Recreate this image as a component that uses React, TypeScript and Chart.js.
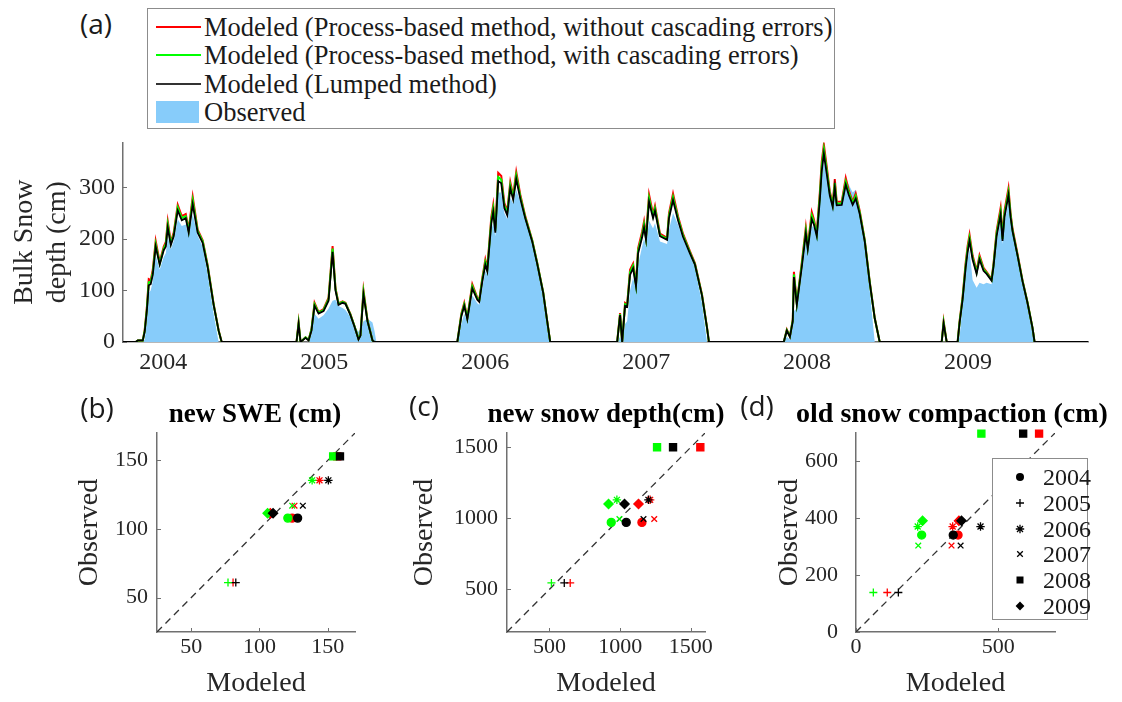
import React, { useEffect, useRef } from 'react';
import { Chart, registerables } from 'chart.js';

Chart.register(...registerables);

const SERIF = '"Liberation Serif", "Times New Roman", serif';
const SANS = '"Open Sans", "Liberation Sans", sans-serif';
const AXIS = '#707070';
const TXT = '#262626';
const RED = '#ff0000';
const GREEN = '#00ff00';
const BLACK = '#000000';
const OBS_BLUE = '#87CCFA';

Chart.defaults.font.family = SERIF;

// ---------------- Panel (a): bulk snow depth time series ----------------
const yearTicks = [2004, 2005, 2006, 2007, 2008, 2009];
const depthTicks = [0, 100, 200, 300];

const dates = [
  // 2004 season
  2003.750, 2003.829, 2003.842, 2003.873, 2003.885, 2003.898, 2003.910, 2003.922, 2003.935, 2003.953,
  2003.978, 2004.003, 2004.016, 2004.028, 2004.047, 2004.065, 2004.090, 2004.115, 2004.140, 2004.158,
  2004.183, 2004.214, 2004.245, 2004.276, 2004.313, 2004.344, 2004.363,
  // 2005 season
  2004.828, 2004.841, 2004.853, 2004.884, 2004.903, 2004.921, 2004.940, 2004.965, 2004.996, 2005.027,
  2005.052, 2005.070, 2005.089, 2005.114, 2005.132, 2005.163, 2005.188, 2005.213, 2005.225, 2005.244,
  2005.269, 2005.300, 2005.312, 2005.324,
  // 2006 season
  2005.827, 2005.852, 2005.870, 2005.889, 2005.920, 2005.951, 2005.963, 2005.982, 2006.001, 2006.013,
  2006.038, 2006.050, 2006.063, 2006.081, 2006.100, 2006.119, 2006.137, 2006.156, 2006.174, 2006.193,
  2006.218, 2006.249, 2006.292, 2006.323, 2006.360, 2006.385, 2006.404,
  // 2007 season
  2006.820, 2006.838, 2006.851, 2006.869, 2006.882, 2006.900, 2006.919, 2006.937, 2006.950, 2006.975,
  2006.987, 2006.999, 2007.018, 2007.043, 2007.055, 2007.086, 2007.130, 2007.142, 2007.167, 2007.198,
  2007.229, 2007.272, 2007.303, 2007.347, 2007.378, 2007.390,
  // 2008 season
  2007.855, 2007.874, 2007.893, 2007.911, 2007.918, 2007.936, 2007.967, 2007.992, 2008.004, 2008.029,
  2008.042, 2008.060, 2008.079, 2008.091, 2008.104, 2008.122, 2008.141, 2008.159, 2008.172, 2008.184,
  2008.215, 2008.240, 2008.259, 2008.283, 2008.302, 2008.327, 2008.358, 2008.389, 2008.420, 2008.451,
  // 2009 season
  2008.836, 2008.848, 2008.867, 2008.935, 2008.947, 2008.966, 2008.985, 2008.997, 2009.009, 2009.028,
  2009.053, 2009.071, 2009.096, 2009.115, 2009.146, 2009.158, 2009.177, 2009.202, 2009.214, 2009.226,
  2009.251, 2009.264, 2009.276, 2009.307, 2009.338, 2009.369, 2009.400, 2009.413, 2009.745,
];

const lumped = [
  0, 0, 3, 3, 20, 60, 110, 112, 130, 185, 150, 178, 185, 222, 188, 205, 255, 236, 240, 212, 267, 212, 192, 145, 72, 22, 0,
  0, 35, 0, 8, 3, 22, 70, 55, 60, 80, 175, 100, 72, 76, 74, 52, 30, 5, 12, 92, 40, 3, 0, 0,
  0, 50, 70, 44, 104, 82, 78, 117, 150, 137, 230, 252, 212, 312, 308, 260, 246, 298, 276, 316, 278, 240, 195, 152, 96, 41, 0,
  0, 52, 0, 70, 68, 130, 143, 108, 172, 203, 222, 198, 272, 240, 254, 205, 198, 240, 275, 236, 204, 172, 150, 90, 28, 0,
  0, 22, 10, 40, 126, 72, 145, 210, 180, 238, 228, 205, 275, 332, 365, 326, 284, 262, 300, 265, 266, 305, 285, 266, 278, 248, 195, 115, 46, 0,
  0, 36, 0, 0, 36, 82, 144, 174, 196, 160, 132, 160, 138, 132, 119, 146, 205, 247, 196, 242, 285, 242, 215, 168, 118, 76, 28, 0, 0,
];

const processNoCascade = [
  0, 0, 3, 3, 24, 66, 122, 120, 140, 196, 155, 185, 194, 234, 194, 212, 266, 244, 248, 218, 282, 218, 197, 149, 74, 23, 0,
  0, 38, 0, 9, 4, 25, 76, 58, 64, 86, 186, 105, 75, 79, 76, 54, 31, 6, 13, 100, 42, 3, 0, 0,
  0, 55, 76, 47, 112, 86, 81, 124, 160, 143, 242, 266, 220, 328, 322, 270, 254, 310, 284, 330, 286, 244, 198, 154, 97, 42, 0,
  0, 56, 0, 76, 73, 140, 152, 113, 182, 214, 234, 205, 286, 248, 264, 210, 202, 250, 288, 244, 210, 176, 153, 92, 29, 0,
  0, 24, 11, 44, 136, 76, 154, 222, 186, 252, 238, 212, 290, 350, 383, 340, 292, 268, 316, 272, 272, 318, 294, 272, 288, 254, 198, 117, 47, 0,
  0, 40, 0, 0, 40, 88, 154, 186, 208, 168, 138, 168, 144, 136, 122, 152, 215, 260, 204, 254, 298, 250, 220, 171, 120, 77, 28, 0, 0,
];

const processCascade = [
  0, 0, 3, 3, 22, 63, 116, 116, 135, 190, 152, 181, 190, 228, 191, 208, 261, 240, 244, 215, 275, 215, 195, 147, 73, 22, 0,
  0, 37, 0, 9, 4, 24, 73, 57, 62, 83, 181, 103, 74, 78, 75, 53, 31, 6, 13, 97, 41, 3, 0, 0,
  0, 53, 73, 46, 108, 84, 80, 121, 155, 140, 236, 259, 216, 320, 315, 265, 250, 304, 280, 323, 282, 242, 197, 153, 97, 41, 0,
  0, 54, 0, 73, 70, 135, 148, 110, 177, 208, 228, 201, 279, 244, 259, 207, 200, 245, 281, 240, 207, 174, 151, 91, 28, 0,
  0, 23, 11, 42, 131, 74, 150, 216, 183, 245, 233, 208, 283, 341, 374, 333, 288, 265, 308, 268, 269, 311, 290, 269, 283, 251, 197, 116, 46, 0,
  0, 38, 0, 0, 38, 85, 149, 180, 202, 164, 135, 164, 141, 134, 120, 149, 210, 253, 200, 248, 291, 246, 217, 169, 119, 77, 28, 0, 0,
];

const observedDepth = [
  0, 0, 0, 0, 5, 40, 95, 100, 118, 168, 140, 165, 172, 205, 180, 196, 238, 225, 228, 205, 248, 206, 185, 132, 55, 0, 0,
  0, 0, 0, 0, 0, 15, 55, 45, 52, 65, 80, 82, 70, 66, 62, 48, 30, 20, 25, 40, 45, 38, 22, 0,
  0, 35, 55, 40, 90, 75, 72, 105, 138, 130, 215, 232, 205, 290, 290, 250, 238, 280, 268, 295, 272, 240, 196, 150, 95, 30, 0,
  0, 10, 0, 35, 40, 100, 125, 100, 150, 185, 200, 185, 235, 220, 230, 195, 190, 218, 250, 228, 200, 168, 145, 75, 0, 0,
  0, 10, 5, 30, 60, 65, 130, 195, 175, 225, 222, 200, 262, 318, 352, 320, 280, 262, 292, 268, 272, 318, 305, 290, 295, 255, 190, 100, 0, 0,
  0, 0, 0, 0, 10, 70, 135, 160, 180, 120, 105, 115, 112, 115, 112, 138, 195, 235, 190, 232, 272, 240, 218, 172, 120, 78, 20, 0, 0,
];

// ---------------- Panels (b)-(d): scatter comparisons ----------------
const seasons = ['2004', '2005', '2006', '2007', '2008', '2009'];

// (b) new SWE (cm)
const sweTicks = [50, 100, 150];
const sweObserved = [108, 61, 135.5, 117, 153, 111.5];
const sweLumped = [128, 82.7, 150.5, 131.8, 159, 110];
const sweNoCascade = [124, 80.7, 144, 125.7, 157, 108];
const sweCascade = [120.8, 77, 138.6, 124, 154, 106];

// (c) new snow depth (cm)
const newDepthTicks = [500, 1000, 1500];
const newDepthObserved = [971, 545, 1130, 995, 1500, 1100];
const newDepthLumped = [1043, 605, 1200, 1165, 1374, 1031];
const newDepthNoCascade = [1154, 647, 1212, 1241, 1567, 1130];
const newDepthCascade = [937, 514, 977, 995, 1261, 918];

// (d) old snow compaction (cm)
const compXTicks = [0, 500];
const compYTicks = [0, 200, 400, 600];
const compObserved = [341, 139, 371, 304, 698, 391];
const compLumped = [342, 149, 438, 368, 588, 371];
const compNoCascade = [359, 110, 340, 336, 644, 362];
const compCascade = [231, 61, 217, 219, 441, 234];

const seasonMarkers = ['circle', 'cross', 'star', 'crossRot', 'rect', 'rectRot'];
const markerRadius = [4, 4, 4.2, 4, 5, 4.6];

// ---------------- helpers ----------------
const inwardTicks = {
  id: 'inwardTicks',
  beforeDatasetsDraw(chart: any) {
    const { ctx, chartArea: ca } = chart;
    const xs = chart.scales.x;
    const ys = chart.scales.y;
    ctx.save();
    ctx.strokeStyle = AXIS;
    ctx.lineWidth = 1;
    xs.ticks.forEach((t: any) => {
      const px = Math.round(xs.getPixelForValue(t.value)) + 0.5;
      ctx.beginPath();
      ctx.moveTo(px, ca.bottom);
      ctx.lineTo(px, ca.bottom - 4);
      ctx.stroke();
    });
    ys.ticks.forEach((t: any) => {
      const py = Math.round(ys.getPixelForValue(t.value)) + 0.5;
      ctx.beginPath();
      ctx.moveTo(ca.left, py);
      ctx.lineTo(ca.left + 4, py);
      ctx.stroke();
    });
    ctx.restore();
  },
};

const fixedTicks = (vals: number[]) => (s: any) => {
  s.ticks = vals.map((v) => ({ value: v }));
};

function timeSeriesConfig(): any {
  const pts = (vals: number[]) => dates.map((d, i) => ({ x: d, y: vals[i] }));
  return {
    type: 'line',
    data: {
      datasets: [
        { label: 'Modeled (Process-based method, without cascading errors)', data: pts(processNoCascade), borderColor: RED, borderWidth: 2, pointRadius: 0, order: 2 },
        { label: 'Modeled (Process-based method, with cascading errors)', data: pts(processCascade), borderColor: GREEN, borderWidth: 2, pointRadius: 0, order: 1 },
        { label: 'Modeled (Lumped method)', data: pts(lumped), borderColor: BLACK, borderWidth: 1.8, pointRadius: 0, order: 0 },
        { label: 'Observed', data: pts(observedDepth), borderWidth: 0, borderColor: OBS_BLUE, backgroundColor: OBS_BLUE, fill: 'origin', pointRadius: 0, order: 3 },
      ],
    },
    options: {
      responsive: false,
      animation: false,
      events: [],
      layout: { padding: { top: 13, right: 34, left: 0, bottom: 0 } },
      plugins: { legend: { display: false }, tooltip: { enabled: false }, title: { display: false } },
      scales: {
        x: {
          type: 'linear',
          min: 2003.75,
          max: 2009.745,
          afterBuildTicks: fixedTicks(yearTicks),
          afterFit: (s: any) => { s.height = 48; },
          grid: { display: false, drawTicks: false },
          border: { color: AXIS, width: 1.5 },
          ticks: { font: { family: SERIF, size: 24 }, color: TXT, padding: 6, maxRotation: 0, autoSkip: false, callback: (v: any) => String(v) },
        },
        y: {
          type: 'linear',
          min: 0,
          max: 387,
          afterBuildTicks: fixedTicks(depthTicks),
          afterFit: (s: any) => { s.width = 123; },
          grid: { display: false, drawTicks: false },
          border: { color: AXIS, width: 1.5 },
          ticks: { font: { family: SERIF, size: 24 }, color: TXT, padding: 8, callback: (v: any) => String(v) },
          title: { display: true, text: ['Bulk Snow', 'depth (cm)'], font: { family: SERIF, size: 28, lineHeight: 1.18 }, color: TXT, padding: { top: 8.5, bottom: 0 } },
        },
      },
    },
    plugins: [inwardTicks],
  };
}

function scatterConfig(p: {
  min: number; max: number; xTicks: number[]; yTicks: number[];
  observed: number[]; lumped: number[]; noCascade: number[]; cascade: number[];
  yWidth: number; yTickPad: number; yTitlePad: number; rightPad: number;
}): any {
  const ds = (label: string, xs: number[], color: string, order: number) => ({
    label,
    data: xs.map((x, i) => ({ x, y: p.observed[i] })),
    pointStyle: seasonMarkers,
    pointRadius: markerRadius,
    backgroundColor: color,
    borderColor: color,
    borderWidth: 1.3,
    order,
    clip: false,
  });
  return {
    type: 'scatter',
    data: {
      datasets: [
        ds('Lumped', p.lumped, BLACK, 1),
        ds('Process-based, with cascading errors', p.cascade, GREEN, 2),
        ds('Process-based, without cascading errors', p.noCascade, RED, 3),
        {
          label: '1:1',
          data: [{ x: p.min, y: p.min }, { x: p.max, y: p.max }],
          showLine: true,
          borderColor: '#333333',
          borderWidth: 1.3,
          borderDash: [7, 5],
          pointRadius: 0,
          order: 4,
        },
      ],
    },
    options: {
      responsive: false,
      animation: false,
      events: [],
      layout: { padding: { top: 43, right: p.rightPad, left: 0, bottom: 0 } },
      plugins: { legend: { display: false }, tooltip: { enabled: false }, title: { display: false } },
      scales: {
        x: {
          type: 'linear',
          min: p.min,
          max: p.max,
          afterBuildTicks: fixedTicks(p.xTicks),
          afterFit: (s: any) => { s.height = 70; },
          grid: { display: false, drawTicks: false },
          border: { color: AXIS, width: 1.5 },
          ticks: { font: { family: SERIF, size: 22 }, color: TXT, padding: 2, maxRotation: 0, autoSkip: false, callback: (v: any) => String(v) },
          title: { display: true, text: 'Modeled', font: { family: SERIF, size: 28, lineHeight: 1.2 }, color: TXT, padding: { top: 0, bottom: 2 } },
        },
        y: {
          type: 'linear',
          min: p.min,
          max: p.max,
          afterBuildTicks: fixedTicks(p.yTicks),
          afterFit: (s: any) => { s.width = p.yWidth; },
          grid: { display: false, drawTicks: false },
          border: { color: AXIS, width: 1.5 },
          ticks: { font: { family: SERIF, size: 22 }, color: TXT, padding: p.yTickPad, callback: (v: any) => String(v) },
          title: { display: true, text: 'Observed', font: { family: SERIF, size: 28, lineHeight: 1.2 }, color: TXT, padding: { top: p.yTitlePad, bottom: 0 } },
        },
      },
    },
    plugins: [inwardTicks],
  };
}

function Marker({ kind }: { kind: string }) {
  const common = { stroke: '#000', strokeWidth: 1.3, fill: 'none' };
  let shape: any = null;
  if (kind === 'circle') shape = <circle cx={7} cy={7} r={4} fill="#000" />;
  else if (kind === 'cross') shape = <path d="M7 3V11M3 7H11" {...common} />;
  else if (kind === 'star') shape = <path d="M7 2.8V11.2M2.8 7H11.2M4 4L10 10M10 4L4 10" {...common} />;
  else if (kind === 'crossRot') shape = <path d="M4.2 4.2L9.8 9.8M9.8 4.2L4.2 9.8" {...common} />;
  else if (kind === 'rect') shape = <rect x={3.5} y={3.5} width={7} height={7} fill="#000" />;
  else shape = <path d="M7 2.4L11.4 7L7 11.6L2.6 7Z" fill="#000" />;
  return <svg width={14} height={14} style={{ display: 'block' }}>{shape}</svg>;
}

const legendA = [
  { text: 'Modeled (Process-based method, without cascading errors)', color: RED, kind: 'line' },
  { text: 'Modeled (Process-based method, with cascading errors)', color: GREEN, kind: 'line' },
  { text: 'Modeled (Lumped method)', color: '#333333', kind: 'line' },
  { text: 'Observed', color: OBS_BLUE, kind: 'patch' },
];

export default function App() {
  const refA = useRef<HTMLCanvasElement>(null);
  const refB = useRef<HTMLCanvasElement>(null);
  const refC = useRef<HTMLCanvasElement>(null);
  const refD = useRef<HTMLCanvasElement>(null);

  useEffect(() => {
    const charts: Chart[] = [];
    charts.push(new Chart(refA.current as HTMLCanvasElement, timeSeriesConfig()));
    charts.push(new Chart(refB.current as HTMLCanvasElement, scatterConfig({
      min: 25, max: 170, xTicks: sweTicks, yTicks: sweTicks,
      observed: sweObserved, lumped: sweLumped, noCascade: sweNoCascade, cascade: sweCascade,
      yWidth: 157, yTickPad: 9, yTitlePad: 73, rightPad: 19,
    })));
    charts.push(new Chart(refC.current as HTMLCanvasElement, scatterConfig({
      min: 200, max: 1600, xTicks: newDepthTicks, yTicks: newDepthTicks,
      observed: newDepthObserved, lumped: newDepthLumped, noCascade: newDepthNoCascade, cascade: newDepthCascade,
      yWidth: 133, yTickPad: 9, yTitlePad: 34, rightPad: 43,
    })));
    charts.push(new Chart(refD.current as HTMLCanvasElement, scatterConfig({
      min: 0, max: 700, xTicks: compXTicks, yTicks: compYTicks,
      observed: compObserved, lumped: compLumped, noCascade: compNoCascade, cascade: compCascade,
      yWidth: 108, yTickPad: 18, yTitlePad: 25, rightPad: 67,
    })));
    return () => charts.forEach((c) => c.destroy());
  }, []);

  const panelLabel = (t: string, cx: number, cy: number) => (
    <div style={{ position: 'absolute', left: cx, top: cy, transform: 'translate(-50%, -50%)', fontFamily: SANS, fontSize: 28, color: '#1a1a1a', lineHeight: 1, whiteSpace: 'nowrap' }}>{t}</div>
  );
  const panelTitle = (t: string, cx: number, size: number) => (
    <div style={{ position: 'absolute', left: cx, top: 413, transform: 'translate(-50%, -50%)', fontFamily: SERIF, fontWeight: 'bold', fontSize: size, color: '#000', lineHeight: 1, whiteSpace: 'nowrap' }}>{t}</div>
  );

  return (
    <div style={{ position: 'absolute', left: 0, top: 0, width: 1122, height: 702, background: '#fff', overflow: 'hidden' }}>
      <canvas ref={refA} width={1122} height={270} style={{ position: 'absolute', left: 0, top: 120 }} />
      <canvas ref={refB} width={374} height={312} style={{ position: 'absolute', left: 0, top: 390 }} />
      <canvas ref={refC} width={374} height={312} style={{ position: 'absolute', left: 374, top: 390 }} />
      <canvas ref={refD} width={374} height={312} style={{ position: 'absolute', left: 748, top: 390 }} />

      {/* legend of panel (a) */}
      <div style={{ position: 'absolute', left: 147, top: 8, width: 688, height: 121, boxSizing: 'border-box', border: '1.5px solid #8c8c8c', background: '#fff' }}>
        {legendA.map((it, i) => (
          <div key={i} style={{ position: 'absolute', left: 0, top: 4 + i * 28.3, height: 28, width: 686, display: 'flex', alignItems: 'center' }}>
            <div style={{ width: 56, height: 28, position: 'relative' }}>
              {it.kind === 'line' ? (
                <div style={{ position: 'absolute', left: 8, top: 13, width: 45, height: 2, background: it.color }} />
              ) : (
                <div style={{ position: 'absolute', left: 8, top: 3, width: 43, height: 22, background: it.color }} />
              )}
            </div>
            <span style={{ fontFamily: SERIF, fontSize: 26.5, color: '#1a1a1a', whiteSpace: 'nowrap', lineHeight: '28px' }}>{it.text}</span>
          </div>
        ))}
      </div>

      {/* legend of panel (d) */}
      <div style={{ position: 'absolute', left: 992, top: 458, width: 96, height: 162, boxSizing: 'border-box', border: '1.5px solid #8c8c8c', background: '#fff' }}>
        {seasons.map((s, i) => (
          <div key={s} style={{ position: 'absolute', left: 0, top: 5 + i * 25.8, height: 26, display: 'flex', alignItems: 'center' }}>
            <div style={{ width: 50, display: 'flex', justifyContent: 'flex-start', paddingLeft: 20, boxSizing: 'border-box' }}>
              <Marker kind={seasonMarkers[i]} />
            </div>
            <span style={{ fontFamily: SERIF, fontSize: 24, color: '#1a1a1a', lineHeight: '26px', whiteSpace: 'nowrap' }}>{s}</span>
          </div>
        ))}
      </div>

      {panelTitle('new SWE (cm)', 255, 27)}
      {panelTitle('new snow depth(cm)', 606, 27)}
      {panelTitle('old snow compaction (cm)', 952, 28)}

      {panelLabel('(a)', 96, 23)}
      {panelLabel('(b)', 97, 407)}
      {panelLabel('(c)', 424, 405)}
      {panelLabel('(d)', 757, 405)}
    </div>
  );
}
